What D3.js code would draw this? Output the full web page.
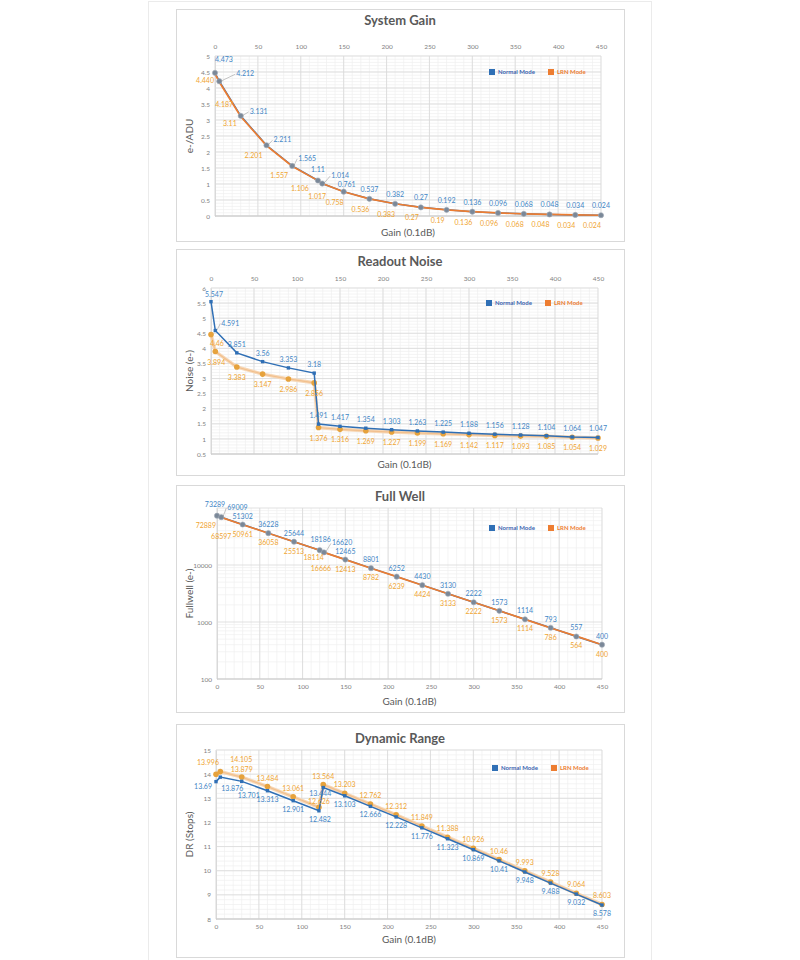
<!DOCTYPE html>
<html><head><meta charset="utf-8">
<script src="https://cdn.jsdelivr.net/npm/d3@7"></script>
<style>body{margin:0;background:#fff}svg{display:block}text{font-family:Lato,"Open Sans",sans-serif}</style>
</head><body>
<script>
const gain = [0,5,30,60,90,120,125,150,180,210,240,270,300,330,360,390,420,450];
const xTicks = [0,50,100,150,200,250,300,350,400,450];
const seriesNames = ["Normal Mode","LRN Mode"];

const sgNormal = [4.473,4.212,3.131,2.211,1.565,1.11,1.014,0.761,0.537,0.382,0.27,0.192,0.136,0.096,0.068,0.048,0.034,0.024];
const sgLRN    = [4.440,4.187,3.11,2.201,1.557,1.106,1.017,0.758,0.536,0.383,0.27,0.190,0.136,0.096,0.068,0.048,0.034,0.024];
const sgTicks  = [0,0.5,1,1.5,2,2.5,3,3.5,4,4.5,5];

const rnNormal = [5.547,4.591,3.851,3.56,3.353,3.18,1.491,1.417,1.354,1.303,1.263,1.225,1.188,1.156,1.128,1.104,1.064,1.047];
const rnLRN    = [4.46,3.894,3.383,3.147,2.986,2.856,1.376,1.316,1.269,1.227,1.199,1.169,1.142,1.117,1.093,1.085,1.054,1.029];
const rnTicks  = [0.5,1,1.5,2,2.5,3,3.5,4,4.5,5,5.5,6];

const fwNormal = [73289,69009,51302,36228,25644,18186,16620,12465,8801,6252,4430,3130,2222,1573,1114,793,557,400];
const fwLRN    = [72889,68597,50961,36058,25513,18114,16666,12413,8782,6239,4424,3133,2222,1573,1114,786,564,400];
const fwTicks  = [100,1000,10000];

const drNormal = [13.69,13.876,13.701,13.313,12.901,12.482,13.444,13.103,12.666,12.228,11.776,11.323,10.869,10.41,9.948,9.488,9.032,8.578];
const drLRN    = [13.996,14.105,13.879,13.484,13.061,12.626,13.564,13.203,12.762,12.312,11.849,11.388,10.926,10.46,9.993,9.528,9.064,8.603];
const drTicks  = [8,9,10,11,12,13,14,15];

const C = {blue:"#2f6fb5", blueLbl:"#3f86c6", orange:"#ed7d31", lrnLbl:"#f0a532", gray:"#7a8898",
           grid:"#d9d9d9", minor:"#efefef", text:"#595959", tick:"#7f7f7f", border:"#d9d9d9"};

const svg = d3.select("body").append("svg").attr("width",800).attr("height",960);
svg.append("rect").attr("x",148.5).attr("y",1.5).attr("width",503).attr("height",960).attr("fill","#fff").attr("stroke","#ebebeb");

function panel(o){
  const g = svg.append("g");
  g.append("rect").attr("x",o.box[0]+0.5).attr("y",o.box[1]+0.5).attr("width",o.box[2]-o.box[0]).attr("height",o.box[3]-o.box[1])
    .attr("fill","#fff").attr("stroke",C.border);
  const x = d3.scaleLinear().domain([0,450]).range([o.x0,o.x1]);
  const y = o.log ? d3.scaleLog().domain(o.ydom).range([o.yb,o.yt]) : d3.scaleLinear().domain(o.ydom).range([o.yb,o.yt]);
  const xm = d3.range(0,451,10);
  g.selectAll(null).data(xm).join("line").attr("x1",d=>x(d)).attr("x2",d=>x(d)).attr("y1",o.yt).attr("y2",o.yb).attr("stroke",C.minor).attr("stroke-width",0.7);
  g.selectAll(null).data(o.yMinor).join("line").attr("x1",o.x0).attr("x2",o.x1).attr("y1",d=>y(d)).attr("y2",d=>y(d)).attr("stroke",C.minor).attr("stroke-width",0.7);
  g.selectAll(null).data(xTicks).join("line").attr("x1",d=>x(d)).attr("x2",d=>x(d)).attr("y1",o.yt).attr("y2",o.yb).attr("stroke",C.grid).attr("stroke-width",0.8);
  g.selectAll(null).data(o.yMajor).join("line").attr("x1",o.x0).attr("x2",o.x1).attr("y1",d=>y(d)).attr("y2",d=>y(d)).attr("stroke",C.grid).attr("stroke-width",0.8);
  const xa = o.xTop ? d3.axisTop(x) : d3.axisBottom(x);
  const xg = g.append("g").attr("transform",`translate(0,${o.xTop?o.yt-4:o.yb+2})`).call(xa.tickValues(xTicks).tickSize(0).tickPadding(3));
  xg.select(".domain").remove();
  xg.selectAll("text").attr("fill",C.tick).style("font-size","6.5px").style("font-family","Lato,sans-serif");
  const ya = d3.axisLeft(y).tickValues(o.yTickVals).tickSize(0).tickPadding(5).tickFormat(d=>String(d));
  const yg = g.append("g").attr("transform",`translate(${o.x0},0)`).call(ya);
  yg.select(".domain").attr("stroke",C.grid);
  yg.selectAll("text").attr("fill",C.tick).style("font-size","6.5px").style("font-family","Lato,sans-serif");
  g.append("line").attr("x1",o.x0).attr("x2",o.x1).attr("y1",o.yb).attr("y2",o.yb).attr("stroke","#c8c8c8");
  g.append("text").attr("x",(o.box[0]+o.box[2])/2).attr("y",o.titleY).attr("text-anchor","middle").attr("dominant-baseline","middle")
    .attr("fill",C.text).style("font-size","13px").style("font-weight","bold").text(o.title);
  g.append("text").attr("x",(o.x0+o.x1)/2).attr("y",o.xlabY).attr("text-anchor","middle").attr("dominant-baseline","middle")
    .attr("fill",C.text).style("font-size","10px").text("Gain (0.1dB)");
  g.append("text").attr("transform",`translate(${o.box[0]+14},${(o.yt+o.yb)/2}) rotate(-90)`).attr("text-anchor","middle").attr("dominant-baseline","middle")
    .attr("fill",C.text).style("font-size","10px").text(o.ylabel);
  const lx = o.legend[0], ly = o.legend[1];
  [[C.blue,"#3b64b0",seriesNames[0],0],[C.orange,C.orange,seriesNames[1],59]].forEach(([fc,tc,t,dx])=>{
    g.append("rect").attr("x",lx+dx-3).attr("y",ly-3).attr("width",6).attr("height",6).attr("fill",fc);
    g.append("text").attr("x",lx+dx+6).attr("y",ly).attr("dominant-baseline","middle").attr("fill",tc)
      .style("font-size","6px").style("font-weight","bold").text(t);
  });
  const ptsN = gain.map((gv,i)=>[x(gv),y(o.normal[i])]);
  const ptsL = gain.map((gv,i)=>[x(gv),y(o.lrn[i])]);
  const line = d3.line();
  if(o.style==="overlay"){
    g.append("path").attr("d",line(ptsN)).attr("fill","none").attr("stroke",C.blue).attr("stroke-width",1.5);
    g.append("path").attr("d",line(ptsL)).attr("fill","none").attr("stroke",C.orange).attr("stroke-width",1.7);
    g.selectAll(null).data(ptsN).join("circle").attr("cx",d=>d[0]).attr("cy",d=>d[1]).attr("r",2.6).attr("fill",C.gray).attr("stroke","#a4adb8").attr("stroke-width",0.6);
  } else {
    g.append("path").attr("d",line(ptsL)).attr("fill","none").attr("stroke","#f6d7b6").attr("stroke-width",3.5);
    g.append("path").attr("d",line(ptsL)).attr("fill","none").attr("stroke","#f2c08e").attr("stroke-width",1.2);
    g.selectAll(null).data(ptsL).join("circle").attr("cx",d=>d[0]).attr("cy",d=>d[1]).attr("r",2.8).attr("fill","#e6a23c");
    g.append("path").attr("d",line(ptsN)).attr("fill","none").attr("stroke",C.blue).attr("stroke-width",1.5);
    g.selectAll(null).data(ptsN).join("rect").attr("x",d=>d[0]-1.7).attr("y",d=>d[1]-1.7).attr("width",3.4).attr("height",3.4).attr("fill",C.blue);
  }
  const lead = (p,dx,dy,up)=> g.append("line").attr("x1",p[0]+1.5).attr("y1",p[1]).attr("x2",p[0]+dx-1).attr("y2",p[1]+dy+(up?-2:-5))
      .attr("stroke","#8c8c8c").attr("stroke-width",0.5);
  gain.forEach((gv,i)=>{
    const pN = ptsN[i], pL = ptsL[i];
    const n = o.nPos(i), l = o.lPos(i);
    if(n.lead) lead(pN,n.dx,n.dy,true);
    if(l.lead) lead(pL,l.dx,l.dy,false);
    g.append("text").attr("x",pN[0]+n.dx).attr("y",pN[1]+n.dy).attr("text-anchor",n.a||"middle").attr("fill",C.blueLbl)
      .style("font-size","7px").text(String(o.normal[i]));
    g.append("text").attr("x",pL[0]+l.dx).attr("y",pL[1]+l.dy).attr("text-anchor",l.a||"middle").attr("fill",C.lrnLbl)
      .style("font-size","7px").text(o.fmtL ? o.fmtL(o.lrn[i]) : String(o.lrn[i]));
  });
}

panel({box:[176,9,624,241], title:"System Gain", ylabel:"e-/ADU", titleY:22, xlabY:233,
  x0:215, x1:601, yt:56, yb:216, ydom:[0,5], xTop:true, yTickVals:sgTicks, yMajor:sgTicks, yMinor:d3.range(0,5.001,0.1),
  legend:[492,72], normal:sgNormal, lrn:sgLRN, style:"overlay", fmtL:d=>d===4.44?"4.440":String(d),
  nPos:i=>({0:{dx:0,dy:-11,a:"start"},1:{dx:17,dy:-5,a:"start",lead:true},2:{dx:9,dy:-2,a:"start",lead:true},
            3:{dx:7,dy:-3,a:"start",lead:true},4:{dx:6,dy:-5,a:"start",lead:true},5:{dx:0,dy:-8},
            6:{dx:9,dy:-5.5,a:"start",lead:true},7:{dx:3,dy:-4.5}})[i] || {dx:0,dy:-7},
  lPos:i=>({0:{dx:-1,dy:9,a:"end"},1:{dx:-4,dy:25,a:"start"},2:{dx:-4,dy:10,a:"end"},3:{dx:-4,dy:12,a:"end"},
            4:{dx:-4,dy:12,a:"end"},5:{dx:-9,dy:10,a:"end"},6:{dx:-5,dy:16}})[i] || {dx:-9,dy:13}
});

panel({box:[176,249,624,475], title:"Readout Noise", ylabel:"Noise (e-)", titleY:263, xlabY:465,
  x0:211, x1:598, yt:288, yb:454, ydom:[0.5,6], xTop:true, yTickVals:rnTicks, yMajor:rnTicks, yMinor:d3.range(0.5,6.001,0.1),
  legend:[489,303], normal:rnNormal, lrn:rnLRN, style:"band",
  nPos:i=>({0:{dx:3,dy:-5},1:{dx:6,dy:-5,a:"start",lead:true}})[i] || {dx:0,dy:-6},
  lPos:i=>({0:{dx:6,dy:12},1:{dx:1,dy:13}})[i] || {dx:0,dy:13}
});

panel({box:[176,485,624,712], title:"Full Well", ylabel:"Fullwell (e-)", titleY:498, xlabY:702,
  x0:217, x1:602, yt:508, yb:679, ydom:[100,100000], log:true, xTop:false, yTickVals:fwTicks, yMajor:[100,1000,10000,100000],
  yMinor:[100,1000,10000].flatMap(d=>d3.range(2,10).map(k=>k*d)),
  legend:[492,528], normal:fwNormal, lrn:fwLRN, style:"overlay",
  nPos:i=>({0:{dx:-2,dy:-9},1:{dx:6,dy:-7,a:"start",lead:true},5:{dx:1,dy:-8},6:{dx:8,dy:-7,a:"start",lead:true}})[i] || {dx:0,dy:-6},
  lPos:i=>({0:{dx:-1,dy:12,a:"end"},1:{dx:0,dy:22},5:{dx:-6,dy:10},6:{dx:-3,dy:19}})[i] || {dx:0,dy:12}
});

panel({box:[176,724,624,957], title:"Dynamic Range", ylabel:"DR (Stops)", titleY:740, xlabY:940,
  x0:216, x1:602, yt:750, yb:919, ydom:[8,15], xTop:false, yTickVals:drTicks, yMajor:drTicks, yMinor:d3.range(8,15.001,0.2),
  legend:[495,768], normal:drNormal, lrn:drLRN, style:"band",
  nPos:i=>({0:{dx:-4,dy:7,a:"end"},1:{dx:12,dy:14},2:{dx:7,dy:17},5:{dx:1,dy:11},6:{dx:-3,dy:8}})[i] || {dx:0,dy:11},
  lPos:i=>({0:{dx:-8,dy:-9},1:{dx:10,dy:-10,a:"start"},2:{dx:0,dy:-5},5:{dx:0,dy:-3}})[i] || {dx:0,dy:-6}
});
</script>
</body></html>
